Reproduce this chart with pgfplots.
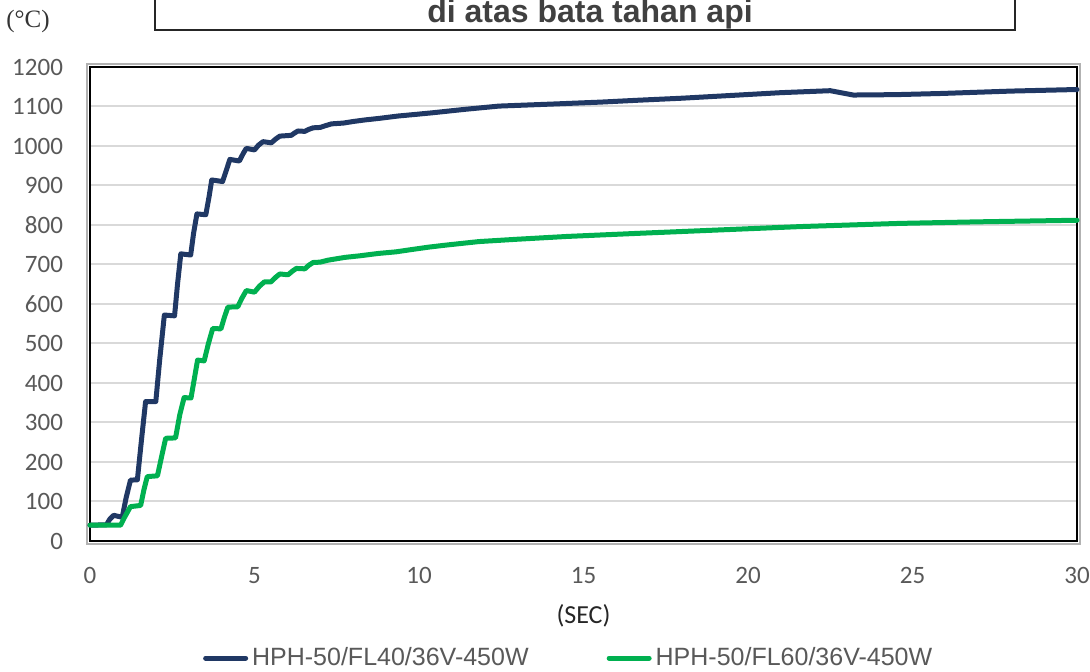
\documentclass[border=0pt]{standalone}
\usepackage{fontspec}
\setmainfont{Liberation Sans}
\newfontfamily\calfont{Carlito}
\newfontfamily\serfont{Liberation Serif}
\usepackage{pgfplots}
\pgfplotsset{compat=1.18}

\definecolor{navy}{HTML}{203864}
\definecolor{exgreen}{HTML}{00B050}
\definecolor{gridgray}{HTML}{D9D9D9}
\definecolor{ticktext}{HTML}{595959}

\begin{document}
\begin{tikzpicture}
\begin{axis}[
    scale only axis,
    width=493.5pt, height=237pt,
    xmin=0, xmax=30, ymin=0, ymax=1200,
    xtick={0,5,...,30},
    ytick={0,100,...,1200},
    major tick length=0pt,
    ymajorgrids,
    grid style={gridgray, line width=1pt},
    axis line style={black, line width=1pt},
    clip=false,
    /pgf/number format/assume math mode=true,
    /pgf/number format/1000 sep={},
    tick label style={font=\calfont\fontsize{12.5}{14}\selectfont, text=ticktext},
    yticklabel style={xshift=-10pt},
    xticklabel style={yshift=-9.5pt},
    xlabel={(SEC)},
    xlabel style={at={(axis description cs:0.5,-0.158)}, anchor=center,
                  font=\calfont\fontsize{13}{15}\selectfont, text=black!85},
    legend columns=2,
    legend style={at={(axis description cs:0.486,-0.247)}, anchor=center, draw=none,
                  font=\fontsize{12.5}{14}\selectfont, text=ticktext,
                  /tikz/every even column/.append style={column sep=37pt},
                  inner sep=0pt},
    legend image code/.code={\draw[#1, line width=2.5pt] (0pt,0pt) -- (20pt,0pt);},
    every axis plot/.append style={line width=2.5pt, line join=round, line cap=round},
]
\draw[black!30, line width=1pt] ([xshift=-1.5pt,yshift=-1.5pt]rel axis cs:0,0) rectangle ([xshift=1.5pt,yshift=1.5pt]rel axis cs:1,1);

\addplot[navy, no marks] coordinates {
(0,40) (0.5,41) (0.6,55) (0.72,65) (0.98,60) (1.1,110) (1.23,154) (1.44,155)
(1.57,260) (1.69,353) (2.0,353) (2.12,460) (2.26,572) (2.57,570) (2.66,650)
(2.76,727) (3.06,724) (3.15,780) (3.25,828) (3.52,826) (3.62,872) (3.70,914)
(4.03,910) (4.15,940) (4.25,966) (4.54,962) (4.65,980) (4.75,994) (5.0,990)
(5.12,1002) (5.26,1011) (5.51,1008) (5.65,1018) (5.77,1025) (6.12,1027)
(6.22,1033) (6.32,1038) (6.53,1037) (6.65,1042) (6.78,1046) (7.0,1047)
(7.14,1051) (7.34,1056) (7.7,1058) (8.0,1062) (8.36,1066) (8.8,1070)
(9.38,1076) (9.9,1080) (10.4,1084) (11.42,1093) (12.43,1101) (14.0,1106)
(15.5,1111) (16.7,1116) (18.0,1121) (19.5,1128) (21.0,1135) (22.5,1140)
(23.2,1129) (24.5,1130) (25.9,1133) (28.0,1139) (30.0,1143)
};
\addlegendentry{HPH-50/FL40/36V-450W}

\addplot[exgreen, no marks] coordinates {
(0,40) (0.93,40) (1.05,60) (1.23,87) (1.54,90) (1.64,130) (1.74,163) (2.05,165)
(2.18,215) (2.3,260) (2.6,261) (2.73,320) (2.86,363) (3.07,362) (3.17,410)
(3.27,458) (3.47,456) (3.6,500) (3.73,538) (3.98,537) (4.08,565) (4.19,592)
(4.49,593) (4.62,615) (4.75,634) (5.0,630) (5.15,645) (5.3,656) (5.5,656)
(5.65,668) (5.77,676) (6.02,674) (6.15,683) (6.27,690) (6.53,689) (6.65,698)
(6.78,705) (7.0,706) (7.24,711) (7.75,718) (8.2,722) (8.77,728) (9.3,732)
(9.79,738) (10.3,744) (10.81,749) (11.82,758) (13.0,764) (14.5,771)
(16.7,779) (19.0,787) (21.6,796) (24.6,804) (27.0,808) (30.0,812)
};
\addlegendentry{HPH-50/FL60/36V-450W}

% title box, cut by the top edge
\draw[black!85, line width=1pt] ([xshift=32.5pt,yshift=18.5pt]rel axis cs:0,1) rectangle ([xshift=462.5pt,yshift=45pt]rel axis cs:0,1);
\node[anchor=base, font=\bfseries\fontsize{16}{18}\selectfont, text=black!75]
  at ([xshift=250pt,yshift=22pt]rel axis cs:0,1) {di atas bata tahan api};
\node[font=\serfont\fontsize{12.5}{14}\selectfont, text=black!80]
  at ([xshift=-31pt,yshift=22.5pt]rel axis cs:0,1) {(°C)};

\coordinate (BB1) at ([xshift=-45pt,yshift=-65.5pt]rel axis cs:0,0);
\coordinate (BB2) at ([xshift=6.5pt,yshift=33.5pt]rel axis cs:1,1);
\end{axis}
\pgfresetboundingbox
\useasboundingbox (BB1) rectangle (BB2);
\end{tikzpicture}
\end{document}
